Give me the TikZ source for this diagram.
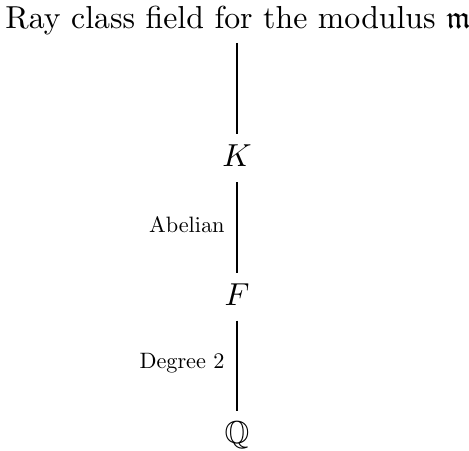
\documentclass[tikz,border=0pt]{standalone}
\usepackage{amssymb}
\font\lblfont=cmr10 at 7pt
\begin{document}
\begin{tikzpicture}[x=0.3145pt,y=-0.3145pt,
  field/.style={inner sep=0pt, anchor=base},
  lbl/.style={font=\lblfont, anchor=east, inner sep=0pt, xshift=-3.7pt},
  link/.style={line width=0.4pt}]
\useasboundingbox (0,0) rectangle (469,450);
\node[field] (top) at (238,28.3) {Ray class field for the modulus $\mathfrak{m}$};
\node[field] (K) at (237,166.7) {$K$};
\node[field] (F) at (237,305) {$F$};
\node[field] (Q) at (237,443.6) {$\mathbb{Q}$};
\draw[link, shorten <=2.3pt, shorten >=3.15pt] (top.south -| K.south) -- (K.north);
\draw[link, shorten <=4.7pt, shorten >=3.15pt] (K.south) -- node[lbl] {Abelian} (F.north);
\draw[link, shorten <=4.7pt, shorten >=3.15pt] (F.south) -- node[lbl] {Degree 2} (Q.north);
\end{tikzpicture}
\end{document}
